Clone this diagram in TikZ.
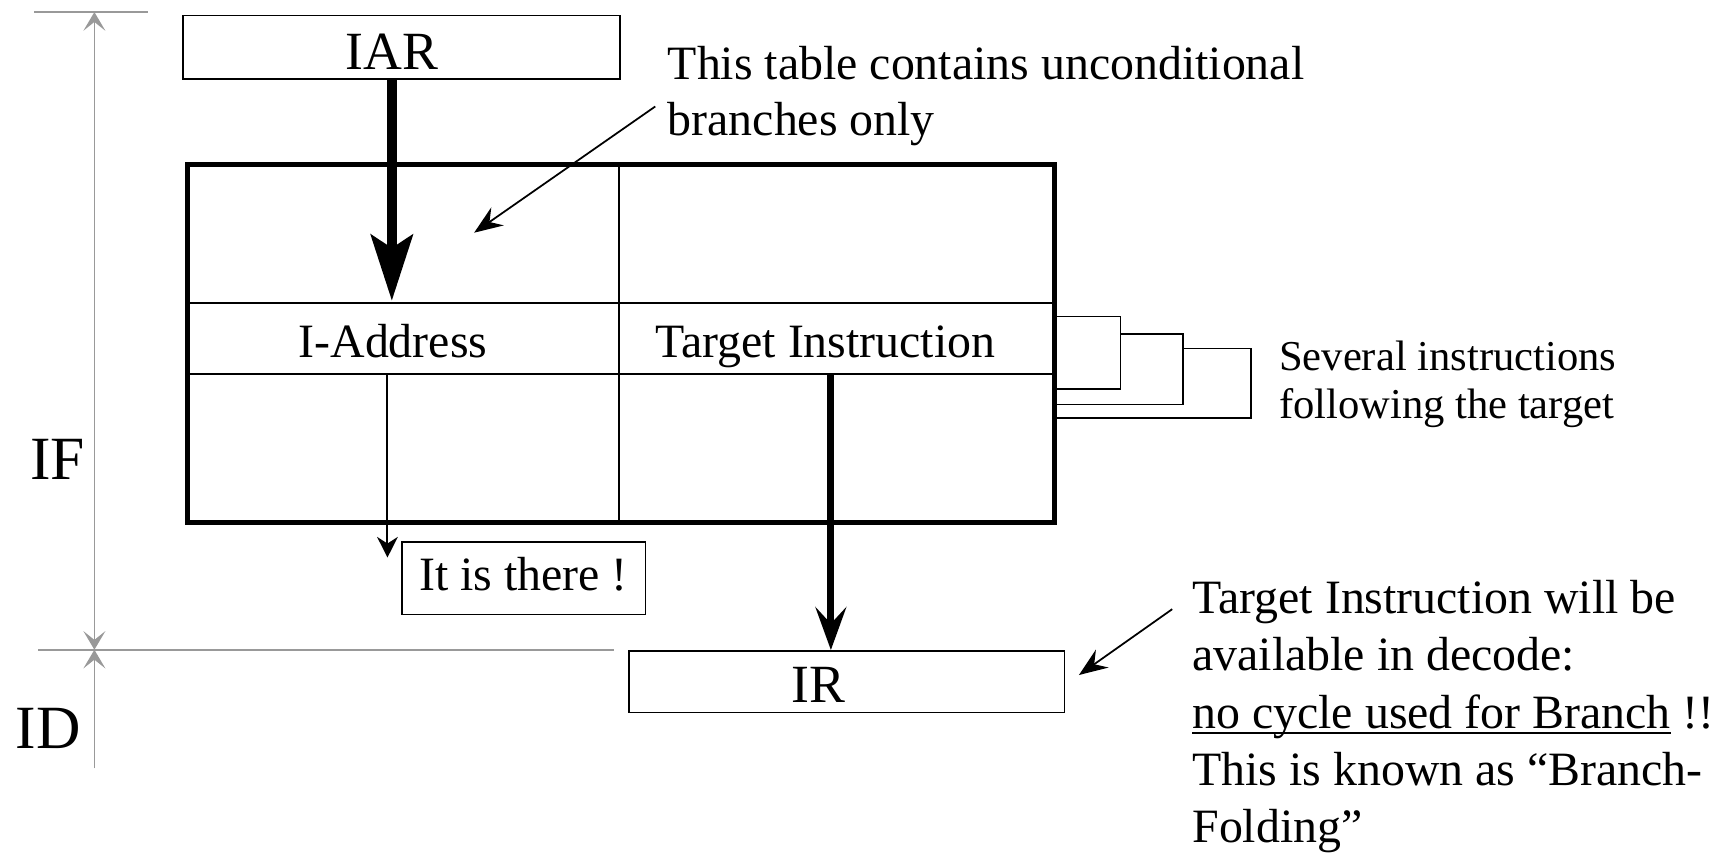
\documentclass[tikz,border=0pt]{standalone}
\usepackage{fontspec}
\setmainfont{Liberation Serif}
\usetikzlibrary{arrows.meta}

\definecolor{dimgray}{RGB}{153,153,153}

% underline drawn at a fixed depth below the baseline
\newcommand\ulrule[1]{\setbox0=\hbox{#1}\rlap{\rule[-2.6pt]{\wd0}{0.75pt}}\box0\relax}

\newcommand\notefont{\fontsize{21.8pt}{25.6pt}\selectfont}
\newcommand\foldfont{\fontsize{21.8pt}{26.1pt}\selectfont}
\newcommand\sidefont{\fontsize{19.4pt}{21.5pt}\selectfont}
\newcommand\regfont{\fontsize{24.5pt}{28pt}\selectfont}
\newcommand\stagefont{\fontsize{28pt}{32pt}\selectfont}

\tikzset{
  dimtip/.tip={Stealth[length=8.5pt,width=10pt,inset=4pt]},
  dimline/.style={draw=dimgray, line width=0.8pt},
  regbox/.style={draw, line width=0.75pt, inner sep=0pt},
  cellline/.style={line width=0.75pt},
  tableframe/.style={draw, line width=2.2pt, inner sep=0pt},
  bigflow/.style={line width=4.5pt, -{Stealth[length=30pt,width=19pt,inset=6pt]}},
  flow/.style={line width=3.2pt, -{Stealth[length=19.5pt,width=14pt,inset=7.5pt]}},
  hitarrow/.style={line width=0.9pt, -{Stealth[length=9.4pt,width=9.4pt,inset=3pt]}},
  pointer/.style={line width=0.8pt, -{Stealth[length=13pt,width=10pt,inset=4.5pt]}},
  celltxt/.style={font=\notefont, inner sep=0pt, anchor=base},
  regtxt/.style={font=\regfont, inner sep=0pt, anchor=base},
  stagetxt/.style={font=\stagefont, inner sep=0pt, anchor=base west},
  notetxt/.style={inner sep=0pt, anchor=base west},
}

\begin{document}
\begin{tikzpicture}[x=0.5pt,y=-0.5pt]
\useasboundingbox (0,0) rectangle (1568,778);

% pipeline stage markers
\draw[dimline] (31,11) -- (135,11);
\draw[dimline] (35,592) -- (559,592);
\coordinate (iftop) at (86,11);
\coordinate (ifend) at (86,592);
\coordinate (idend) at (86,700);
\draw[dimline, dimtip-dimtip] (iftop) -- (ifend);
\draw[dimline, -dimtip] (idend) -- (ifend);
\node[stagetxt] (iflab) at (27,437) {IF};
\node[stagetxt] (idlab) at (14,682) {ID};

% branch target table
\draw[cellline] (171,276) -- (961,276);
\draw[cellline] (171,341) -- (961,341);
\draw[cellline] (564,150) -- (564,476);
\node[tableframe, minimum width=395pt, minimum height=163pt] (tbl) at (566,313) {};
\node[celltxt] (iaddr) at (358,325.5) {I-Address};
\node[celltxt] (tgt) at (752,325.5) {Target Instruction};

% following instructions stored with the target
\draw[cellline] (961,288.5) -| (1021,354.5) -- (961,354.5);
\draw[cellline] (1021,304.3) -| (1078,368.4) -- (961,368.4);
\draw[cellline] (1078,317.4) -| (1140,381) -- (961,381);
\node[notetxt, font=\sidefont] (sidenote) at (1165,338)
  {\begin{tabular}[t]{@{}l@{}}Several instructions\\following the target\end{tabular}};

% registers
\node[regbox, minimum width=199pt, minimum height=29pt] (iarbox) at (366,43) {};
\node[regtxt] (iarlab) at (357,63) {IAR};
\node[regbox, minimum width=198.5pt, minimum height=28pt] (irbox) at (771.5,621) {};
\node[regtxt] (irlab) at (746,640) {IR};
\node[regbox, minimum width=111pt, minimum height=33pt, text height=11pt,
      text depth=0pt, font=\notefont] (there) at (477,527) {It is there !};

% lookup and delivery
\coordinate (hitcell) at (357,274);
\draw[bigflow] (iarlab |- iarbox.south) -- (hitcell);
\coordinate (hitsrc) at (353,341);
\coordinate (hittip) at (353,508);
\draw[hitarrow] (hitsrc) -- (hittip);
\coordinate (tgtsrc) at (757,341);
\draw[flow] (tgtsrc) -- (tgtsrc |- irbox.north);

% annotations
\node[notetxt, font=\notefont] (tblnote) at (608,72)
  {\begin{tabular}[t]{@{}l@{}}This table contains unconditional\\branches only\end{tabular}};
\coordinate (tblfrom) at (597,97);
\coordinate (tblspot) at (432,212);
\draw[pointer] (tblfrom) -- (tblspot);

\node[notetxt, font=\foldfont] (foldnote) at (1086,559)
  {\begin{tabular}[t]{@{}l@{}}Target Instruction will be\\available in decode:\\
   \ulrule{no cycle used for Branch} !!\\This is known as “Branch-\\Folding”\end{tabular}};
\coordinate (foldfrom) at (1068,555);
\coordinate (irspot) at (983,615);
\draw[pointer] (foldfrom) -- (irspot);
\end{tikzpicture}
\end{document}
